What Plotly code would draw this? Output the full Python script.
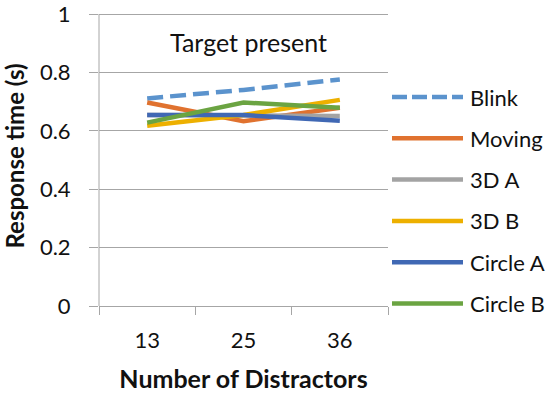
import plotly.graph_objects as go

# Mean response time (s) by number of distractors, target-present trials
distractors = ["13", "25", "36"]
series_names = ["Blink", "Moving", "3D A", "3D B", "Circle A", "Circle B"]
blink = [0.711, 0.740, 0.776]
moving = [0.697, 0.633, 0.679]
three_d_a = [0.654, 0.654, 0.651]
three_d_b = [0.617, 0.654, 0.706]
circle_a = [0.654, 0.654, 0.634]
circle_b = [0.628, 0.697, 0.679]
series_values = [blink, moving, three_d_a, three_d_b, circle_a, circle_b]
y_ticks = [0, 0.2, 0.4, 0.6, 0.8, 1]

colors = ["#5B93CD", "#E0722F", "#A3A3A3", "#EDB000", "#4068B4", "#6BA442"]
dashes = ["16px,7px", "solid", "solid", "solid", "solid", "solid"]

FONT = "Lato"
TXT = "#111111"
GRID = "#A6A6A6"

# plot area in pixels; the y range runs a little past 1 so the top gridline is drawn
L, R, T, B = 99, 388, 6, 306
W, H = 551, 393
PW, PH = R - L, B - T
Y_TOP = PH / 292.0


def px_x(x):
    return (x - L) / PW


def px_y(y):
    return (B - y) / PH


fig = go.Figure()

for name, vals, col, dash in zip(series_names, series_values, colors, dashes):
    fig.add_trace(go.Scatter(
        x=distractors, y=vals, mode="lines", name=name,
        line=dict(color=col, width=4.5, dash=dash),
        showlegend=False,
    ))

# Legend on the right: a line sample and a label per series
leg_y0 = 97
leg_step = 41.3
for i, (name, col, dash) in enumerate(zip(series_names, colors, dashes)):
    yy = px_y(leg_y0 + i * leg_step)
    fig.add_shape(type="line", xref="paper", yref="paper",
                  x0=px_x(392), x1=px_x(463), y0=yy, y1=yy,
                  line=dict(color=col, width=4.5,
                            dash="15px,5px" if dash != "solid" else "solid"))
    fig.add_annotation(xref="paper", yref="paper", x=px_x(468), y=yy,
                       text=name, showarrow=False, xanchor="left", yanchor="middle",
                       font=dict(family=FONT, size=22, color=TXT))

fig.add_annotation(xref="paper", yref="paper", x=px_x(248), y=px_y(42),
                   text="Target present", showarrow=False,
                   xanchor="center", yanchor="middle",
                   font=dict(family=FONT, size=25, color=TXT))

fig.update_layout(
    width=W, height=H,
    margin=dict(l=L, r=W - R, t=T, b=H - B, autoexpand=False),
    paper_bgcolor="white", plot_bgcolor="white",
    font=dict(family=FONT, size=22, color=TXT),
)

fig.update_xaxes(
    type="category", range=[-0.5, 2.5], automargin=False,
    tickson="boundaries", ticks="outside", ticklen=8, tickcolor=GRID, tickwidth=1,
    showgrid=False, showline=True, linecolor=GRID, linewidth=1,
    ticklabelstandoff=15,
    title=dict(text="<b>Number of Distractors</b>", font=dict(family=FONT, size=25, color=TXT), standoff=20),
)
fig.update_yaxes(
    range=[0, Y_TOP], tickvals=y_ticks, ticktext=[f"{v:g}" for v in y_ticks], automargin=False,
    ticklabeloverflow="allow",
    ticks="outside", ticklen=9, tickcolor=GRID, tickwidth=1,
    showgrid=True, gridcolor=GRID, gridwidth=1,
    showline=False, zeroline=False,
    ticklabelstandoff=14,
    title=dict(text="<b>Response time (s)</b>", font=dict(family=FONT, size=24, color=TXT), standoff=10),
)

# vertical axis line from 0 to 1 (the range overshoots 1 slightly)
fig.add_shape(type="line", xref="paper", yref="y", x0=0, x1=0, y0=0, y1=1,
              line=dict(color=GRID, width=1))

fig.write_html("out.html")
